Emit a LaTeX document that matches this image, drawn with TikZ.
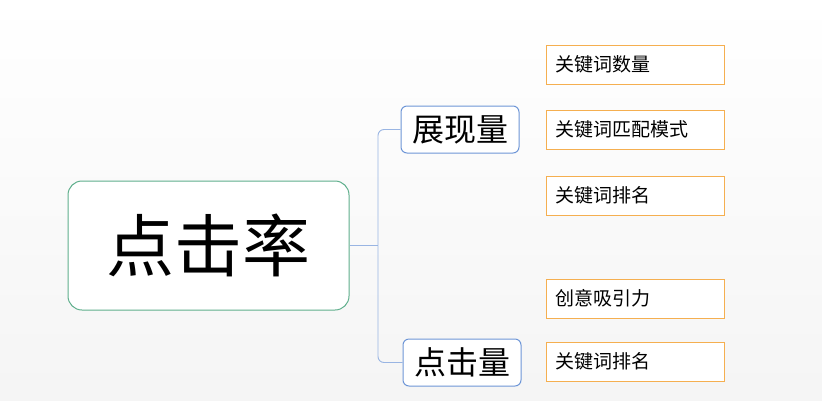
\documentclass[tikz,border=0pt]{standalone}
\usepackage{fontspec}
\newfontfamily\cjk{Noto Sans CJK SC}
\definecolor{mainc}{RGB}{95,175,140}
\definecolor{midc}{RGB}{110,150,215}
\definecolor{leafc}{RGB}{245,175,80}
\begin{document}
\begin{tikzpicture}[x=1pt,y=-1pt,
  mainbox/.style={draw=mainc, line width=1pt, rounded corners=14pt, minimum width=281pt, minimum height=129pt, fill=white, font=\cjk\fontsize{68}{74}\selectfont},
  midbox/.style={draw=midc, line width=1pt, rounded corners=6pt, minimum width=118pt, minimum height=47pt, fill=white, font=\cjk\fontsize{32}{36}\selectfont},
  leafbox/.style={draw=leafc, line width=0.8pt, minimum width=178pt, minimum height=39pt, fill=white, font=\cjk\fontsize{19}{22}\selectfont, text width=160pt, align=left},
  conn/.style={draw=midc!70, line width=0.9pt, rounded corners=6pt}]
\shade[top color=white, bottom color=gray!8] (0,0) rectangle (822,400);
\useasboundingbox (0,0) rectangle (822,400);
\node[mainbox] (m) at (208.5,245.5) {点击率};
\node[midbox] (a) at (460,129.5) {展现量};
\node[midbox] (b) at (462,362.5) {点击量};
\node[leafbox] (l1) at (635,64.5) {关键词数量};
\node[leafbox] (l2) at (635,129.5) {关键词匹配模式};
\node[leafbox] (l3) at (635,195.5) {关键词排名};
\node[leafbox] (l4) at (635,298.5) {创意吸引力};
\node[leafbox] (l5) at (635,361.5) {关键词排名};
\coordinate (j) at (378,245.5);
\draw[conn] (m.east) -- (j);
\draw[conn] (j) |- (a.west);
\draw[conn] (j) |- (b.west);
\end{tikzpicture}
\end{document}
